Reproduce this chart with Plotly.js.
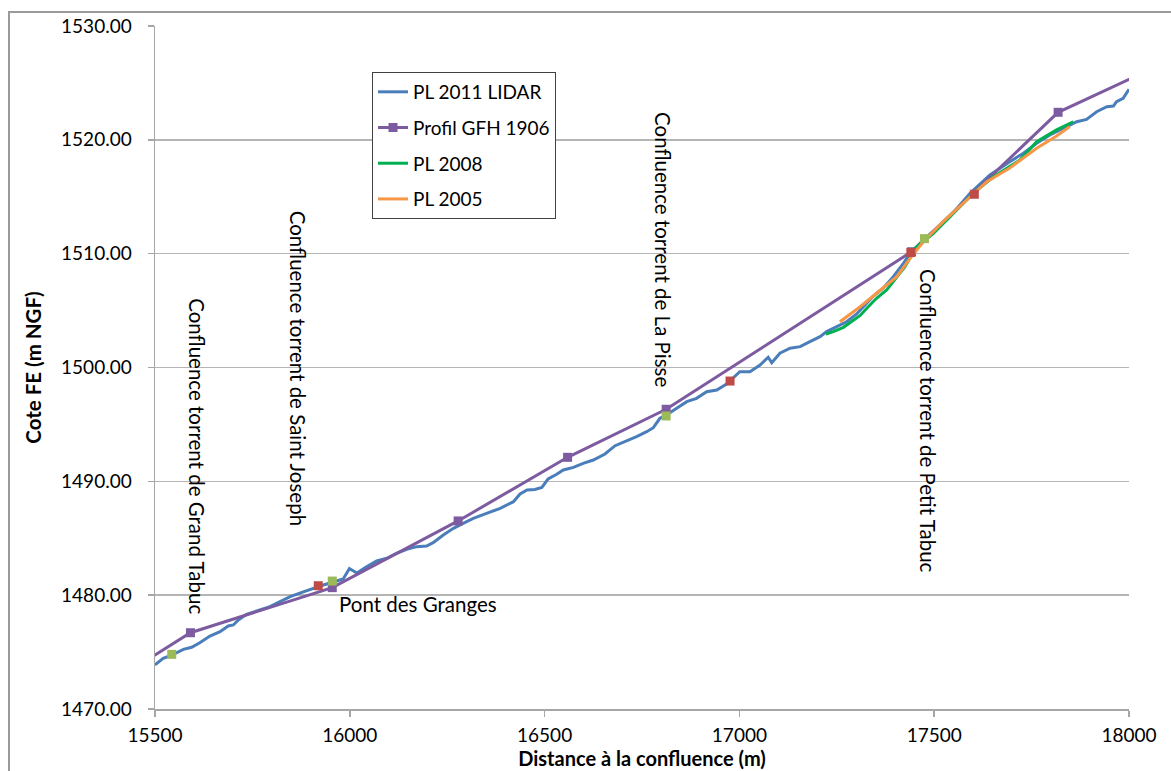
<!DOCTYPE html>
<html>
<head>
<meta charset="utf-8">
<script src="https://cdn.plot.ly/plotly-3.0.1.min.js"></script>
<style>
  html, body { margin: 0; padding: 0; background: #ffffff; }
  #chart { width: 1171px; height: 771px; }
  #frame { position: absolute; left: 8px; top: 11px; width: 1200px; height: 800px;
           border: 2px solid #9a9a9a; pointer-events: none; }
</style>
</head>
<body>
<div id="chart"></div>
<div id="frame"></div>
<script>
// Profil en long de la Ravine entre 15 500 m et 18 000 m de la confluence
const lidarDist = [15500, 15521, 15543, 15573, 15594, 15615, 15641, 15667, 15688, 15701,
  15714, 15735, 15769, 15795, 15821, 15847, 15877, 15906, 15932, 15966,
  15983, 15999, 16018, 16043, 16069, 16095, 16120, 16146, 16172, 16197,
  16214, 16240, 16266, 16291, 16317, 16351, 16386, 16420, 16437, 16455,
  16475, 16493, 16509, 16531, 16548, 16574, 16599, 16625, 16655, 16681,
  16711, 16736, 16762, 16779, 16796, 16813, 16839, 16865, 16890, 16916,
  16942, 16967, 17001, 17027, 17053, 17074, 17083, 17104, 17130, 17156,
  17181, 17207, 17224, 17250, 17275, 17301, 17327, 17344, 17369, 17395,
  17421, 17438, 17472, 17540, 17592, 17643, 17694, 17729, 17763, 17797,
  17831, 17866, 17891, 17917, 17943, 17960, 17968, 17985, 18000];
const lidarCote = [1473.87, 1474.45, 1474.74, 1475.24, 1475.42, 1475.82, 1476.41, 1476.79, 1477.29, 1477.38,
  1477.82, 1478.32, 1478.70, 1478.99, 1479.43, 1479.87, 1480.25, 1480.60, 1480.89, 1481.24,
  1481.42, 1482.34, 1481.95, 1482.50, 1483.00, 1483.24, 1483.68, 1484.03, 1484.26, 1484.32,
  1484.61, 1485.29, 1485.87, 1486.31, 1486.75, 1487.19, 1487.63, 1488.21, 1488.89, 1489.24,
  1489.28, 1489.46, 1490.21, 1490.62, 1491.00, 1491.23, 1491.58, 1491.87, 1492.40, 1493.13,
  1493.54, 1493.92, 1494.36, 1494.71, 1495.54, 1495.83, 1496.42, 1497.00, 1497.29, 1497.87,
  1498.02, 1498.55, 1499.63, 1499.63, 1500.22, 1500.90, 1500.42, 1501.25, 1501.69, 1501.83,
  1502.27, 1502.71, 1503.15, 1503.59, 1504.02, 1504.70, 1505.64, 1506.28, 1506.96, 1507.98,
  1509.15, 1510.03, 1511.20, 1513.25, 1515.30, 1516.91, 1518.08, 1518.82, 1519.70, 1520.43,
  1521.01, 1521.59, 1521.80, 1522.47, 1522.91, 1522.97, 1523.35, 1523.65, 1524.44];

const gfhDist = [15400, 15591, 15955, 16278, 16559, 16812, 17442, 17818, 18100];
const gfhCote = [1472.59, 1476.70, 1480.66, 1486.52, 1492.11, 1496.33, 1510.17, 1522.42, 1526.91];

const pl2008Dist = [17222, 17241, 17267, 17292, 17310, 17327, 17352, 17378, 17404, 17425,
  17442, 17451, 17498, 17549, 17600, 17652, 17720, 17763, 17814, 17857];
const pl2008Cote = [1502.94, 1503.15, 1503.53, 1504.11, 1504.57, 1505.20, 1506.08, 1506.81, 1507.91, 1508.86,
  1509.88, 1510.47, 1511.79, 1513.55, 1515.30, 1516.76, 1518.23, 1519.84, 1520.87, 1521.59];

const pl2005Dist = [17258, 17310, 17352, 17404, 17438, 17472, 17523, 17583, 17635, 17694,
  17763, 17814, 17848];
const pl2005Cote = [1504.02, 1505.34, 1506.52, 1507.98, 1509.59, 1511.05, 1512.81, 1514.72, 1516.32, 1517.53,
  1519.26, 1520.34, 1521.16];

// points singuliers (repères rouges et verts)
const repRougeDist = [15919, 16976, 17440, 17603];
const repRougeCote = [1480.83, 1498.81, 1510.10, 1515.22];
const repVertDist = [15543, 15955, 16812, 17475];
const repVertCote = [1474.80, 1481.24, 1495.74, 1511.32];

const xTicks = [15500, 16000, 16500, 17000, 17500, 18000];
const yTicks = [1470, 1480, 1490, 1500, 1510, 1520, 1530];

const labels = [
  {text: 'Confluence torrent de Grand Tabuc', x: 15608, y: 1492.2, angle: 90},
  {text: 'Confluence torrent de Saint Joseph', x: 15867, y: 1499.9, angle: 90},
  {text: 'Confluence torrent de La Pisse', x: 16804, y: 1510.4, angle: 90},
  {text: 'Confluence torrent de Petit Tabuc', x: 17484, y: 1495.3, angle: 90},
  {text: 'Pont des Granges', x: 16175, y: 1479.2, angle: 0}
];

const FONT = 'Lato, "Open Sans", sans-serif';

const traces = [
  {x: lidarDist, y: lidarCote, name: 'PL 2011 LIDAR', mode: 'lines', legendgroup: 'a',
   line: {color: '#4a7ebb', width: 3}},
  {x: gfhDist, y: gfhCote, name: 'Profil GFH 1906', mode: 'lines+markers', legendgroup: 'b',
   line: {color: '#7d5ba0', width: 3}, marker: {symbol: 'square', size: 9, color: '#7d5ba0'}},
  {x: pl2008Dist, y: pl2008Cote, name: 'PL 2008', mode: 'lines', legendgroup: 'c',
   line: {color: '#00b050', width: 3}},
  {x: pl2005Dist, y: pl2005Cote, name: 'PL 2005', mode: 'lines', legendgroup: 'd',
   line: {color: '#f79646', width: 3}},
  {x: repRougeDist, y: repRougeCote, name: 'repères', mode: 'markers', showlegend: false,
   marker: {symbol: 'square', size: 9, color: '#be4b48'}},
  {x: repVertDist, y: repVertCote, name: 'repères', mode: 'markers', showlegend: false,
   marker: {symbol: 'square', size: 9, color: '#9bbb59'}}
];

const layout = {
  width: 1171, height: 771,
  margin: {l: 155, r: 42, t: 26, b: 62},
  paper_bgcolor: '#ffffff', plot_bgcolor: '#ffffff',
  font: {family: FONT, size: 19, color: '#000000'},
  showlegend: true,
  legend: {
    x: 0.2228, y: 0.9327, xanchor: 'left', yanchor: 'top',
    bgcolor: '#ffffff', bordercolor: '#404040', borderwidth: 1,
    font: {family: FONT, size: 19, color: '#000000'},
    traceorder: 'grouped', tracegroupgap: 8
  },
  xaxis: {
    range: [15500, 18000], tickvals: xTicks, ticktext: xTicks.map(String),
    showgrid: false, zeroline: false,
    showline: true, linecolor: '#a6a6a6', linewidth: 1.5,
    ticks: 'outside', ticklen: 6, tickcolor: '#a6a6a6', tickwidth: 1.5,
    ticklabelstandoff: 3,
    tickfont: {family: FONT, size: 19, color: '#000000'},
    title: {text: 'Distance à la confluence (m)', standoff: 0,
            font: {family: FONT, size: 20, color: '#000000', weight: 'bold'}}
  },
  yaxis: {
    range: [1470, 1530], tickvals: yTicks, ticktext: yTicks.map(v => v.toFixed(2)),
    showgrid: true, gridcolor: '#b5b5b5', gridwidth: 1.5, zeroline: false,
    showline: true, linecolor: '#a6a6a6', linewidth: 1.5,
    ticks: 'outside', ticklen: 6, tickcolor: '#a6a6a6', tickwidth: 1.5,
    ticklabelstandoff: 12,
    tickfont: {family: FONT, size: 19, color: '#000000'},
    title: {text: 'Cote FE (m NGF)', standoff: 14,
            font: {family: FONT, size: 20.5, color: '#000000', weight: 'bold'}}
  },
  annotations: labels.map(l => ({
    text: l.text, x: l.x, y: l.y, xref: 'x', yref: 'y',
    textangle: l.angle, showarrow: false, xanchor: 'center', yanchor: 'middle',
    font: {family: FONT, size: 20.5, color: '#000000'}
  }))
};

Plotly.newPlot('chart', traces, layout, {staticPlot: true, displayModeBar: false});
</script>
</body>
</html>
